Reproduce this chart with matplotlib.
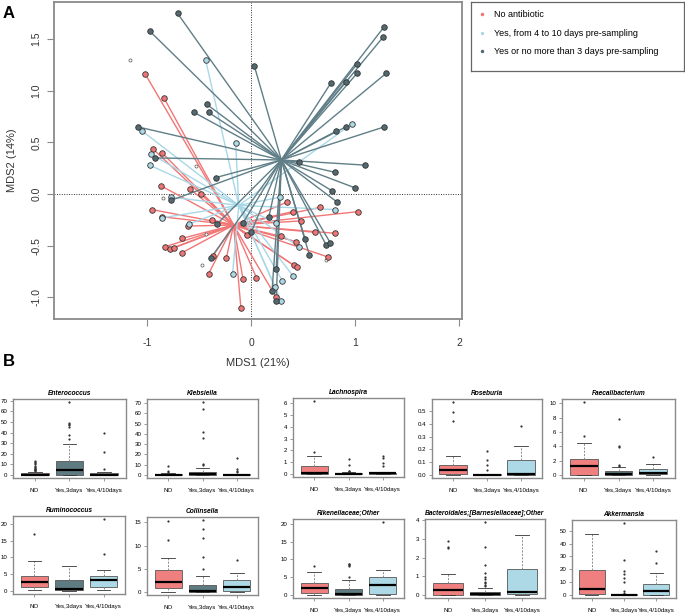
import matplotlib
matplotlib.use("Agg")
import matplotlib.pyplot as plt
from matplotlib.lines import Line2D

plt.rcParams['font.family'] = ['Liberation Sans', 'DejaVu Sans']

# ---- panel A: MDS ordination (spider plot) ----
grey_x = [-0.71, -0.98, 0.03, 1.28, 1.27, 1.02, 1.02, 0.91, 1.30, 0.77, 1.28, 0.91, 0.82,
          -0.43, -0.41, -0.55, -1.09, -0.93, -0.34, 0.46, 1.10, 0.81, 1.00, 0.78, 0.83,
          -0.77, 0.17, -0.33, -0.08, 0.00, 0.52, 0.72, 0.76, 0.56, -0.39, 0.24, 0.20, 0.24]
grey_y = [1.75, 1.58, 1.24, 1.62, 1.52, 1.26, 1.17, 1.09, 1.17, 1.08, 0.65, 0.65, 0.61,
          0.87, 0.79, 0.79, 0.65, 0.35, 0.16, 0.31, 0.28, 0.21, 0.06, 0.03, -0.08,
          -0.06, -0.22, -0.29, -0.28, -0.37, -0.44, -0.49, -0.47, -0.59, -0.62, -0.73, -0.94, -1.04]

blue_x = [-0.44, -1.05, -0.15, 0.97, -0.97, -0.98, -0.77, -0.86, -0.60, 0.28, 0.81, 0.24,
          0.46, -0.18, 0.40, 0.30, 0.23, 0.29]
blue_y = [1.30, 0.61, 0.49, 0.68, 0.39, 0.28, -0.03, -0.23, -0.29, -0.03, -0.15, -0.28,
          -0.51, -0.77, -0.79, -0.84, -0.90, -1.04]

red_x = [-1.02, -0.84, -0.95, -0.86, -0.87, -0.59, -0.48, -0.96, -0.86, -0.61, -0.38, -0.67,
         -0.83, -0.78, -0.74, -0.67, -0.37, -0.41, -0.24, -0.08, -0.10, -0.04, 0.05, 0.34,
         0.40, 0.66, 1.03, 0.48, 0.61, 0.81, 0.29, 0.43, 0.74, 0.41, 0.44, 0.24]
red_y = [1.16, 0.93, 0.44, 0.40, 0.08, 0.05, 0.00, -0.15, -0.22, -0.31, -0.25, -0.43,
         -0.51, -0.53, -0.52, -0.57, -0.60, -0.77, -0.62, -0.82, -1.10, -0.40, -0.81, -0.08,
         -0.17, -0.13, -0.17, -0.26, -0.37, -0.38, -0.41, -0.46, -0.61, -0.69, -0.71, -1.00]

# samples without antibiotic information (no spider)
na_x = [-1.17, -0.53, -0.85, -0.44, -0.47, 0.72]
na_y = [1.30, 0.27, -0.04, -0.39, -0.69, -0.64]

# group centroids
centroid_grey = (0.29, 0.33)
centroid_blue = (-0.12, -0.11)
centroid_red = (-0.17, -0.30)

legend_labels = ["No antibiotic", "Yes, from 4 to 10 days pre-sampling",
                 "Yes or no more than 3 days pre-sampling"]

# ---- panel B: boxplot summaries (whislo, q1, median, q3, whishi, outliers) ----
groups = ["NO", "Yes,3days", "Yes,4/10days"]
box_colors = ["#f08080", "#5f7b82", "#add8e6"]

enterococcus = [(0, 0, 0.5, 1.8, 3.2, [4, 4.5, 5, 5.5, 6, 7, 8, 9, 10, 11, 12, 13]),
                (0, 0.2, 5, 13, 29.5, [34, 38, 45, 47, 48, 49, 69]),
                (0, 0.1, 0.4, 2.0, 2.5, [5.5, 22, 40])]
klebsiella = [(0, 0, 0.2, 1.0, 2.0, [2.5, 3.5, 8.5]),
              (0, 0, 0.8, 3.0, 6.5, [10, 11, 36, 42, 64, 71]),
              (0, 0, 0.2, 1.0, 1.5, [2.5, 3.5, 6, 16.5])]
lachnospira = [(0, 0.02, 0.1, 0.65, 1.5, [1.9, 6.2]),
               (0, 0, 0.02, 0.07, 0.15, [0.2, 0.25, 0.3, 0.75, 1.3]),
               (0, 0.01, 0.05, 0.1, 0.15, [0.65, 0.95, 1.4, 1.5])]
roseburia = [(0, 0.005, 0.04, 0.075, 0.15, [0.42, 0.49, 0.57]),
             (0, 0, 0.0, 0.005, 0.01, [0.04, 0.075, 0.115, 0.19]),
             (0, 0, 0.005, 0.115, 0.23, [0.38])]
faecalibacterium = [(0, 0.05, 1.2, 2.2, 4.5, [5.4, 10.2]),
                    (0, 0, 0.1, 0.55, 1.1, [1.3, 1.4, 3.9, 4.0, 7.8]),
                    (0, 0.1, 0.35, 0.85, 1.5, [2.5])]
ruminococcus = [(0.1, 1.0, 2.5, 4.5, 9.0, [17]),
                (-0.1, 0.1, 0.5, 3.2, 7.5, []),
                (0.1, 1.0, 3.1, 4.3, 6.3, [10.9, 21.5])]
collinsella = [(0, 0.9, 2.1, 4.8, 7.3, [11.2, 15.2]),
               (0, 0.05, 0.25, 1.6, 3.5, [4.9, 7.6, 11.6, 13.6, 15.5]),
               (0, 0.2, 1.0, 2.6, 4.2, [6.9])]
rikenellaceae = [(0, 0.6, 2.0, 3.5, 6.5, [8.1]),
                 (0, 0.1, 0.4, 1.8, 4.3, [5.0, 8.1, 8.4, 8.6, 8.8]),
                 (0, 0.2, 2.9, 5.0, 6.9, [20.5])]
barnesiellaceae = [(0, 0.0, 0.25, 0.65, 1.1, [2.5, 2.55, 2.9]),
                   (0, 0.0, 0.05, 0.15, 0.4, [0.48, 0.55, 0.62, 0.71, 0.85, 0.98, 1.2, 1.6, 2.55, 3.9]),
                   (0, 0.05, 0.18, 1.4, 3.2, [])]
akkermansia = [(0, 0.5, 5, 19.5, 47, []),
               (0, 0, 0.3, 0.8, 1.2, [1.5, 3.5, 10.4, 13, 16, 19, 27, 56]),
               (0, 0.2, 3.3, 9.0, 17.5, [25, 34])]

taxa = ["Enterococcus", "Klebsiella", "Lachnospira", "Roseburia", "Faecalibacterium",
        "Ruminococcus", "Collinsella", "Rikenellaceae;Other",
        "Bacteroidales;[Barnesiellaceae];Other", "Akkermansia"]
taxa_data = [enterococcus, klebsiella, lachnospira, roseburia, faecalibacterium,
             ruminococcus, collinsella, rikenellaceae, barnesiellaceae, akkermansia]
tick_steps = [10, 10, 1, 0.1, 2, 5, 5, 5, 1, 10]

# panel positions in pixels (left, top, right, bottom)
panel_px = [(13, 399, 126, 478), (147, 399, 258, 478), (293, 398, 404, 477),
            (432, 399, 542, 478), (562, 399, 675, 478),
            (13, 516, 125, 594), (147, 517, 258, 595), (293, 519, 404, 598),
            (425, 519, 545, 598), (572, 520, 676, 598)]

W, H = 685, 614
fig = plt.figure(figsize=(W / 100, H / 100), dpi=100)


def px_axes(l, t, r, b):
    return fig.add_axes([l / W, 1 - b / H, (r - l) / W, (b - t) / H])


GREY_PT, GREY_LN = "#52696f", "#607e87"
BLUE_PT, BLUE_LN = "#add8e6", "#a8d8e8"
RED_PT, RED_LN = "#ef7575", "#f27676"
FRAME = "#8a8a8a"

ax = px_axes(54, 2, 462, 319)
for xs, ys, cen, col in [(red_x, red_y, centroid_red, RED_LN),
                         (blue_x, blue_y, centroid_blue, BLUE_LN),
                         (grey_x, grey_y, centroid_grey, GREY_LN)]:
    for x, y in zip(xs, ys):
        ax.plot([cen[0], x], [cen[1], y], color=col, lw=1.0, zorder=2)
ax.axhline(0, color="#333333", lw=0.7, ls=(0, (1, 1.5)), zorder=1)
ax.axvline(0, color="#333333", lw=0.7, ls=(0, (1, 1.5)), zorder=1)
ax.scatter(na_x, na_y, s=5, facecolors="white", edgecolors="#555555", linewidths=0.5, zorder=3)
for xs, ys, col in [(red_x, red_y, RED_PT), (blue_x, blue_y, BLUE_PT), (grey_x, grey_y, GREY_PT)]:
    ax.scatter(xs, ys, s=16, c=col, edgecolors="#333333", linewidths=0.6, zorder=4)

ax.set_xlim(-1.90, 2.03)
ax.set_ylim(-1.21, 1.86)
ax.set_xticks([-1, 0, 1, 2])
ax.set_yticks([-1.0, -0.5, 0.0, 0.5, 1.0, 1.5])
ax.set_xticklabels(["-1", "0", "1", "2"])
ax.set_yticklabels(["-1.0", "-0.5", "0.0", "0.5", "1.0", "1.5"], rotation=90, va="center")
ax.tick_params(labelsize=7.5, labelcolor="#333333", color=FRAME, length=5, width=0.8, pad=9)
ax.tick_params(axis="y", pad=4)
for s in ax.spines.values():
    s.set_color(FRAME)
    s.set_linewidth(1.3)
fig.text(12 / W, 1 - 160 / H, "MDS2 (14%)", rotation=90, ha="center", va="center",
         fontsize=8, color="#333333")
fig.text(258 / W, 1 - 363 / H, "MDS1 (21%)", ha="center", va="center", fontsize=8, color="#333333")
fig.text(9 / W, 1 - 13 / H, "A", fontsize=12, fontweight="bold", ha="center", va="center")
fig.text(9 / W, 1 - 362 / H, "B", fontsize=12, fontweight="bold", ha="center", va="center")

# legend box
lax = px_axes(471, 2, 684, 71)
lax.set_xticks([])
lax.set_yticks([])
for s in lax.spines.values():
    s.set_color("#666666")
    s.set_linewidth(0.9)
handles = [Line2D([], [], ls="none", marker="o", markersize=2.5, color=c, mec="none")
           for c in [RED_PT, BLUE_PT, GREY_PT]]
lax.legend(handles, legend_labels, loc="upper left", frameon=False, fontsize=6.5,
           handlelength=0.8, handletextpad=0.9, labelspacing=1.05,
           borderaxespad=0.0, bbox_to_anchor=(0.02, 0.93))

# panel B boxplots
for name, data, step, pos in zip(taxa, taxa_data, tick_steps, panel_px):
    bax = px_axes(*pos)
    stats = []
    for g, (lo, q1, med, q3, hi, fl) in zip(groups, data):
        stats.append(dict(label=g, whislo=lo, q1=q1, med=med, q3=q3, whishi=hi, fliers=fl))
    bp = bax.bxp(stats, positions=[1, 2, 3], widths=0.8, capwidths=0.4, patch_artist=True,
                 boxprops=dict(edgecolor="#555555", linewidth=0.6),
                 medianprops=dict(color="black", linewidth=1.6, solid_capstyle="butt"),
                 whiskerprops=dict(color="#8a8a8a", linewidth=0.7, linestyle=(0, (2, 1.5))),
                 capprops=dict(color="#333333", linewidth=0.6),
                 flierprops=dict(marker="o", markersize=1.6, markerfacecolor="#333333",
                                 markeredgecolor="none"))
    for patch, col in zip(bp["boxes"], box_colors):
        patch.set_facecolor(col)
    vals = [v for d in data for v in [d[0], d[4]] + d[5]]
    lo, hi = min(vals), max(vals)
    pad = (hi - lo) * 0.04
    bax.set_ylim(lo - pad, hi + pad)
    bax.set_xlim(0.38, 3.62)
    n = int((hi + pad) // step + 1e-9)
    ticks = [round(i * step, 3) for i in range(n + 1)]
    bax.set_yticks(ticks)
    if step < 1:
        bax.set_yticklabels([f"{t:.1f}" for t in ticks])
    else:
        bax.set_yticklabels([f"{t:g}" for t in ticks])
    bax.set_xticks([1, 2, 3])
    bax.set_xticklabels(groups)
    bax.tick_params(labelsize=4.4, color=FRAME, length=2.5, width=0.6, pad=1.5)
    bax.tick_params(axis="x", pad=5)
    for s in bax.spines.values():
        s.set_color(FRAME)
        s.set_linewidth(1.0)
    bax.set_title(name, fontsize=4.8, fontweight="bold", fontstyle="italic", pad=3)

fig.savefig("out.png", dpi=100)
